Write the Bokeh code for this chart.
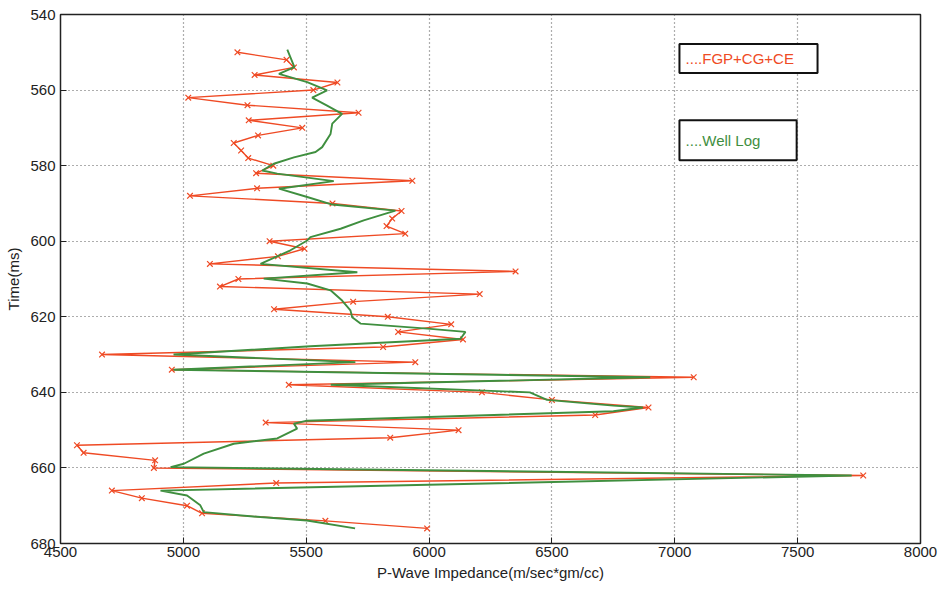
from bokeh.plotting import figure
from bokeh.models import Range1d, FixedTicker, BoxAnnotation, Label
from bokeh.embed import file_html
from bokeh.resources import INLINE

# FGP+CG+CE estimate (red, x markers), every 2 ms
red_time = list(range(550, 678, 2))
red_imp = [5220, 5420, 5450, 5290, 5627, 5529, 5020, 5261, 5713, 5266,
           5484, 5304, 5205, 5235, 5264, 5366, 5296, 5932, 5300, 5027,
           5607, 5888, 5850, 5827, 5903, 5351, 5493, 5385, 5108, 6352,
           5224, 5149, 6206, 5691, 5369, 5832, 6090, 5874, 6138, 5813,
           4669, 5944, 4953, 7077, 5429, 6215, 6500, 6893, 6676, 5335,
           6120, 5842, 4567, 4594, 4885, 4880, 7767, 5378, 4709, 4831,
           5015, 5076, 5578, 5992]

# Well log (green)
green_time = [549.3, 553.9, 555.7, 557.9, 560.1, 562.0, 564.1, 566.3, 568.9, 571.6,
              575.1, 576.4, 577.8, 579.5, 581.3, 582.1, 584.1, 586.1, 588.3, 590.3,
              591.9, 594.5, 596.7, 598.9, 599.8, 602.4, 606.0, 608.2, 609.9, 611.2,
              613.0, 615.7, 618.3, 620.1, 621.8, 623.2, 624.0, 625.8, 627.8, 630.0,
              632.0, 634.0, 636.0, 638.0, 640.0, 642.0, 643.5, 644.0, 645.0, 647.5,
              648.3, 649.6, 652.2, 653.6, 656.2, 658.9, 659.8, 662.0, 666.0, 667.3,
              669.9, 671.7, 673.0, 673.9, 676.0]
green_imp = [5423, 5452, 5389, 5504, 5585, 5524, 5585, 5646, 5606, 5599,
             5565, 5538, 5450, 5368, 5321, 5382, 5612, 5389, 5504, 5606,
             5863, 5734, 5640, 5517, 5504, 5436, 5314, 5708, 5327, 5504,
             5599, 5646, 5680, 5687, 5721, 6006, 6148, 6128, 5517, 4960,
             5700, 4960, 6900, 5600, 6410, 6480, 6750, 6870, 6750, 5503,
             5450, 5463, 5382, 5205, 5083, 5002, 4948, 7720, 4907, 5015,
             5069, 5083, 5313, 5503, 5699]

x_ticks = [4500, 5000, 5500, 6000, 6500, 7000, 7500, 8000]
y_ticks = [540, 560, 580, 600, 620, 640, 660, 680]

legend_labels = ["....FGP+CG+CE", "....Well Log"]

RED = "#ef4a24"
GREEN = "#3f8f3f"
FONT = "Liberation Sans"

p = figure(width=945, height=591, output_backend="svg", toolbar_location=None,
           x_range=Range1d(4500, 8000), y_range=Range1d(680, 540),
           min_border_left=60, min_border_right=25, min_border_top=14,
           min_border_bottom=48)
p.background_fill_color = "white"
p.border_fill_color = "white"
p.outline_line_color = "#222222"
p.outline_line_width = 1.5

for ax, ticks in ((p.xaxis[0], x_ticks), (p.yaxis[0], y_ticks)):
    ax.ticker = FixedTicker(ticks=ticks)
    ax.major_tick_in = 6
    ax.major_tick_out = 0
    ax.minor_tick_line_color = None
    ax.axis_line_color = "#222222"
    ax.major_tick_line_color = "#222222"
    ax.major_label_text_font = FONT
    ax.major_label_text_font_size = "15px"
    ax.major_label_text_color = "#222222"
    ax.axis_label_text_font = FONT
    ax.axis_label_text_font_size = "15px"
    ax.axis_label_text_font_style = "normal"
    ax.axis_label_text_color = "#222222"

p.xaxis.axis_label = "P-Wave Impedance(m/sec*gm/cc)"
p.yaxis.axis_label = "Time(ms)"
p.xaxis.major_label_standoff = 3
p.xaxis.axis_label_standoff = 4
p.yaxis.major_label_standoff = 5
p.yaxis.axis_label_standoff = 5

p.grid.grid_line_color = "#333333"
p.grid.grid_line_dash = "1 3"
p.grid.grid_line_width = 1.2
p.grid.grid_line_alpha = 0.8
p.xgrid.ticker = FixedTicker(ticks=x_ticks)
p.ygrid.ticker = FixedTicker(ticks=y_ticks)

p.line(red_imp, red_time, line_color=RED, line_width=1.4)
p.scatter(red_imp, red_time, marker="x", size=8, line_color=RED, line_width=1.2)
p.line(green_imp, green_time, line_color=GREEN, line_width=1.9)

# legend boxes
p.add_layout(BoxAnnotation(left=7019, right=7581, top=547.8, bottom=555.5,
                           fill_color="white", fill_alpha=1.0,
                           line_color="#111111", line_alpha=1.0, line_width=2))
p.add_layout(BoxAnnotation(left=7019, right=7496, top=568.0, bottom=578.6,
                           fill_color="white", fill_alpha=1.0,
                           line_color="#111111", line_alpha=1.0, line_width=2))
p.add_layout(Label(x=7044, y=551.7, text=legend_labels[0], text_color=RED,
                   text_font=FONT, text_font_size="15px", text_baseline="middle"))
p.add_layout(Label(x=7044, y=573.3, text=legend_labels[1], text_color=GREEN,
                   text_font=FONT, text_font_size="15px", text_baseline="middle"))

open("out.html", "w").write(file_html(p, INLINE))
